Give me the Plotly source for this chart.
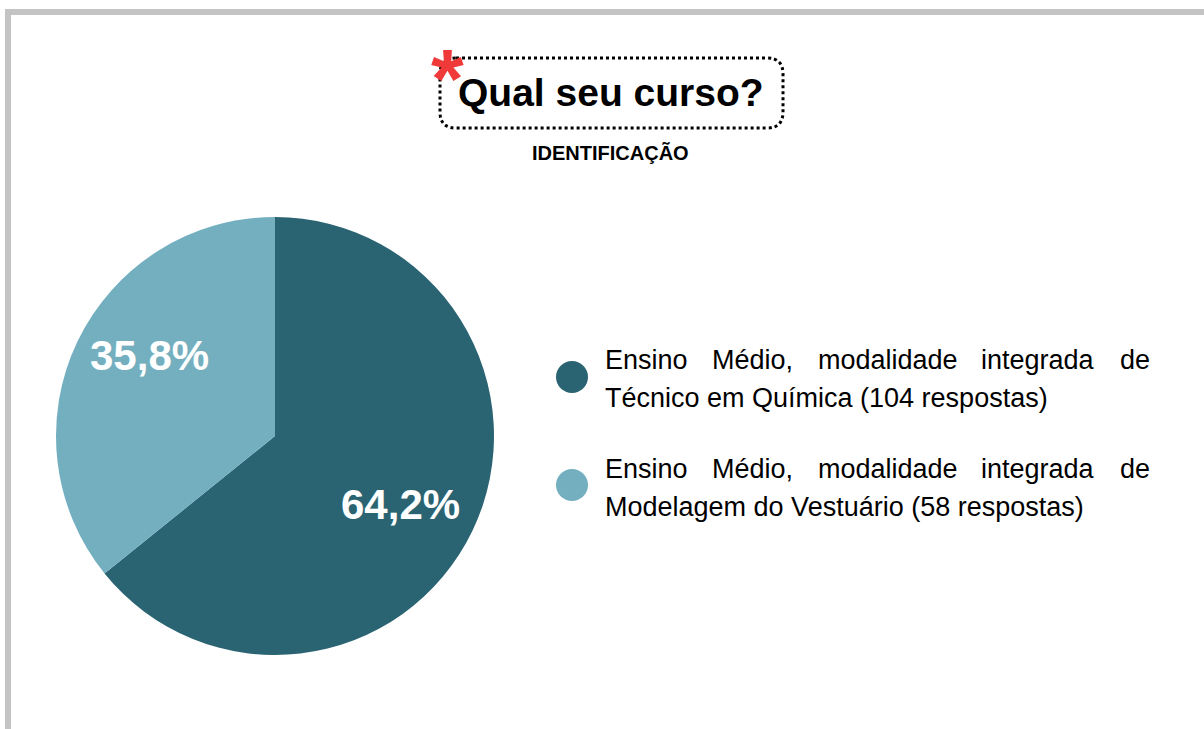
import plotly.graph_objects as go

W, H = 1204, 729
OFF = 0  # page body margin removed via post_script

# ---- data ----
categories = ["Técnico em Química", "Modelagem do Vestuário"]
counts = [104, 58]
prefix_words = ["Ensino", "Médio,", "modalidade", "integrada", "de"]
colors = ["#2a6473", "#74afc0"]
title_text = "Qual seu curso?"
subtitle_text = "IDENTIFICAÇÃO"


def px(x):
    return (x - OFF) / W


def py(y):
    return 1 - (y - OFF) / H


fig = go.Figure()
fig.add_trace(go.Pie(
    labels=categories,
    values=counts,
    sort=False,
    direction="clockwise",
    rotation=0,
    marker=dict(colors=colors, line=dict(width=0)),
    textinfo="none",
    domain=dict(x=[px(56), px(494)], y=[py(655), py(217)]),
    showlegend=False,
    hoverinfo="label+value+percent",
))

shapes = []
annotations = []

# percentage labels inside the slices
total = sum(counts)
label_pos = [(400, 504), (149, 355)]
for (lx, ly), n in zip(label_pos, counts):
    pct = f"{100 * n / total:.1f}%".replace(".", ",")
    annotations.append(dict(text=pct, x=px(lx), y=py(ly), xref="paper", yref="paper",
                            showarrow=False, xanchor="center", yanchor="middle",
                            font=dict(family="Liberation Sans, Arial", size=42,
                                      color="white", weight="bold")))

# frame (gray bars on top and left)
shapes.append(dict(type="rect", xref="paper", yref="paper",
                   x0=px(5), x1=1.0, y0=py(15), y1=py(9),
                   fillcolor="#c4c4c4", line=dict(width=0), layer="above"))
shapes.append(dict(type="rect", xref="paper", yref="paper",
                   x0=px(5), x1=px(11), y0=0, y1=py(9),
                   fillcolor="#c4c4c4", line=dict(width=0), layer="above"))

# dotted rounded box around title
x0, x1, y0, y1, r = 440, 783, 58, 128, 16
pts = (f"M {px(x0 + r)},{py(y0)} L {px(x1 - r)},{py(y0)} "
       f"Q {px(x1)},{py(y0)} {px(x1)},{py(y0 + r)} "
       f"L {px(x1)},{py(y1 - r)} Q {px(x1)},{py(y1)} {px(x1 - r)},{py(y1)} "
       f"L {px(x0 + r)},{py(y1)} Q {px(x0)},{py(y1)} {px(x0)},{py(y1 - r)} "
       f"L {px(x0)},{py(y0 + r)} Q {px(x0)},{py(y0)} {px(x0 + r)},{py(y0)} Z")
shapes.append(dict(type="path", xref="paper", yref="paper", path=pts,
                   line=dict(color="black", width=3, dash="dot")))

annotations.append(dict(text=title_text, x=px(611), y=py(92), xref="paper", yref="paper",
                        showarrow=False, xanchor="center", yanchor="middle",
                        font=dict(family="Liberation Sans, Arial", size=39, color="black", weight="bold")))
annotations.append(dict(text="*", x=px(447), y=py(79), xref="paper", yref="paper",
                        showarrow=False, xanchor="center", yanchor="middle",
                        font=dict(family="Liberation Sans, Arial", size=84, color="#f03a3a", weight="bold")))
annotations.append(dict(text=subtitle_text, x=px(610), y=py(153), xref="paper", yref="paper",
                        showarrow=False, xanchor="center", yanchor="middle",
                        font=dict(family="Liberation Sans, Arial", size=20, color="black", weight="bold")))

# custom justified legend
legend_font = dict(family="Liberation Sans, Arial", size=27, color="#000000")
text_left, text_right = 603, 1152
word_centers = [None, 752, 888, 1038, None]
item_tops = [360, 469]
line_gap = 38
circle_cy = [377, 485]
for i, (cat, n) in enumerate(zip(categories, counts)):
    cy = circle_cy[i]
    shapes.append(dict(type="circle", xref="paper", yref="paper",
                       x0=px(556), x1=px(588), y0=py(cy + 16), y1=py(cy - 16),
                       fillcolor=colors[i], line=dict(width=0)))
    y_l1 = item_tops[i]
    for j, w in enumerate(prefix_words):
        if j == 0:
            xa, xx = "left", text_left
        elif j == len(prefix_words) - 1:
            xa, xx = "right", text_right
        else:
            xa, xx = "center", word_centers[j]
        annotations.append(dict(text=w, x=px(xx), y=py(y_l1), xref="paper", yref="paper",
                                showarrow=False, xanchor=xa, yanchor="middle", font=legend_font))
    annotations.append(dict(text=f"{cat} ({n} respostas)", x=px(text_left), y=py(y_l1 + line_gap),
                            xref="paper", yref="paper", showarrow=False,
                            xanchor="left", yanchor="middle", font=legend_font))

fig.update_layout(
    width=W, height=H,
    margin=dict(l=0, r=0, t=0, b=0),
    paper_bgcolor="white",
    plot_bgcolor="white",
    separators=",.",
    shapes=shapes,
    annotations=annotations,
    showlegend=False,
)

fig.write_html("out.html",
               config={"displayModeBar": False},
               post_script="document.body.style.margin='0';document.body.style.overflow='hidden';")
